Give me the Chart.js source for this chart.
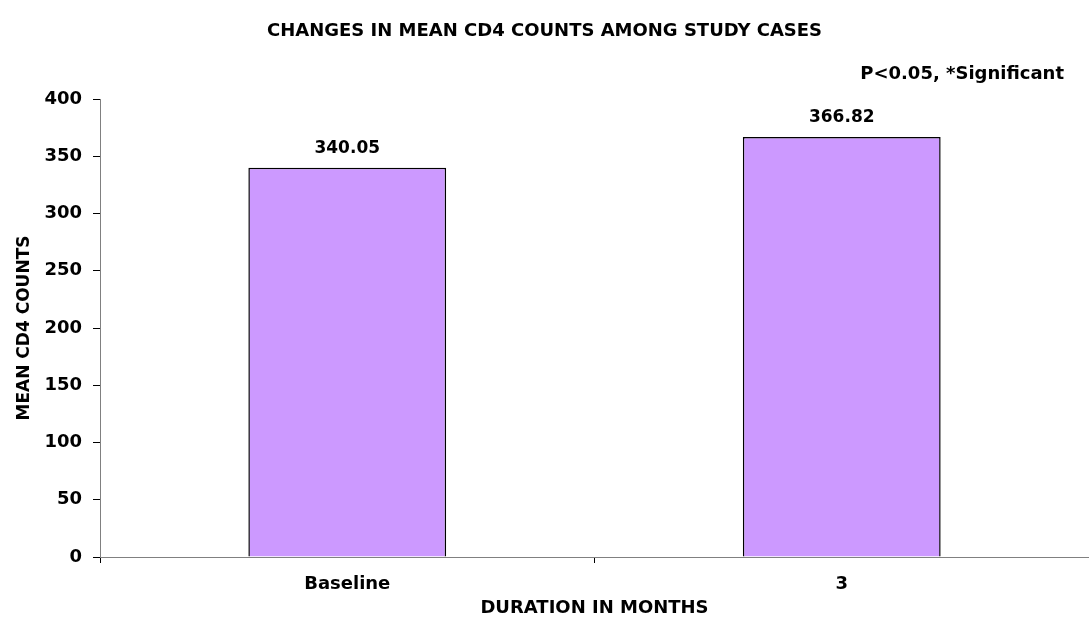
<!DOCTYPE html>
<html>
<head>
<meta charset="utf-8">
<script src="https://cdn.jsdelivr.net/npm/chart.js@4/dist/chart.umd.min.js"></script>
<style>
  html, body { margin: 0; padding: 0; background: #fff; }
  #wrap { width: 1089px; height: 626px; }
</style>
</head>
<body>
<div id="wrap"><canvas id="cd4Chart" width="1089" height="626"></canvas></div>
<script>
// 图表数据
const categories = ['Baseline', '3'];
const meanCd4 = [340.05, 366.82];
const valueLabels = ['340.05', '366.82'];
const yTicks = [0, 50, 100, 150, 200, 250, 300, 350, 400];

const chartTitle = 'CHANGES IN MEAN CD4 COUNTS AMONG STUDY CASES';
const noteText = 'P<0.05, *Significant';
const xTitle = 'DURATION IN MONTHS';
const yTitle = 'MEAN CD4 COUNTS';

const FONT = '"DejaVu Sans", "Liberation Sans", Arial, sans-serif';

// 柱顶数值 + 右上角说明
const labelPlugin = {
  id: 'labelPlugin',
  afterDatasetsDraw(chart) {
    const ctx = chart.ctx;
    const meta = chart.getDatasetMeta(0);
    ctx.save();
    ctx.font = 'bold 17px ' + FONT;
    ctx.fillStyle = '#000';
    ctx.textAlign = 'center';
    ctx.textBaseline = 'middle';
    meta.data.forEach((bar, i) => {
      ctx.fillText(valueLabels[i], bar.x, bar.y - 19);
    });
    ctx.font = 'bold 18px ' + FONT;
    ctx.textAlign = 'right';
    ctx.fillText(noteText, 1064, 74);
    ctx.restore();
  }
};

new Chart(document.getElementById('cd4Chart').getContext('2d'), {
  type: 'bar',
  data: {
    labels: categories,
    datasets: [{
      data: meanCd4,
      backgroundColor: '#CC99FF',
      borderColor: '#000000',
      borderWidth: 1.5,
      barPercentage: 0.4,
      categoryPercentage: 1.0
    }]
  },
  options: {
    responsive: false,
    animation: false,
    layout: { padding: { top: 0, left: 0, right: 0, bottom: 0 } },
    plugins: {
      legend: { display: false },
      tooltip: { enabled: false },
      title: {
        display: true,
        text: chartTitle,
        color: '#000',
        font: { family: FONT, size: 18, weight: 'bold', lineHeight: 1.2 },
        padding: { top: 20.2, bottom: 57.2 }
      }
    },
    scales: {
      x: {
        grid: { display: true, drawOnChartArea: false, drawTicks: true, tickLength: 6, color: '#000', offset: true },
        border: { display: true, color: '#808080', width: 1 },
        ticks: { color: '#000', font: { family: FONT, size: 18, weight: 'bold', lineHeight: 1.2 }, padding: 11 },
        title: {
          display: true,
          text: xTitle,
          color: '#000',
          font: { family: FONT, size: 18, weight: 'bold', lineHeight: 1.2 },
          padding: { top: 0, bottom: 7 }
        },
        afterFit(scale) { scale.height = 69; }
      },
      y: {
        min: 0,
        max: 400,
        grid: { display: true, drawOnChartArea: false, drawTicks: true, tickLength: 7, color: '#000' },
        border: { display: true, color: '#808080', width: 1 },
        afterBuildTicks(scale) { scale.ticks = yTicks.map(v => ({ value: v })); },
        ticks: { color: '#000', font: { family: FONT, size: 18, weight: 'bold', lineHeight: 1.2 }, padding: 11 },
        title: {
          display: true,
          text: yTitle,
          color: '#000',
          font: { family: FONT, size: 17, weight: 'bold', lineHeight: 1.2 },
          padding: { top: 14, bottom: 0 }
        },
        afterFit(scale) { scale.width = 100; }
      }
    }
  },
  plugins: [labelPlugin]
});
</script>
</body>
</html>
